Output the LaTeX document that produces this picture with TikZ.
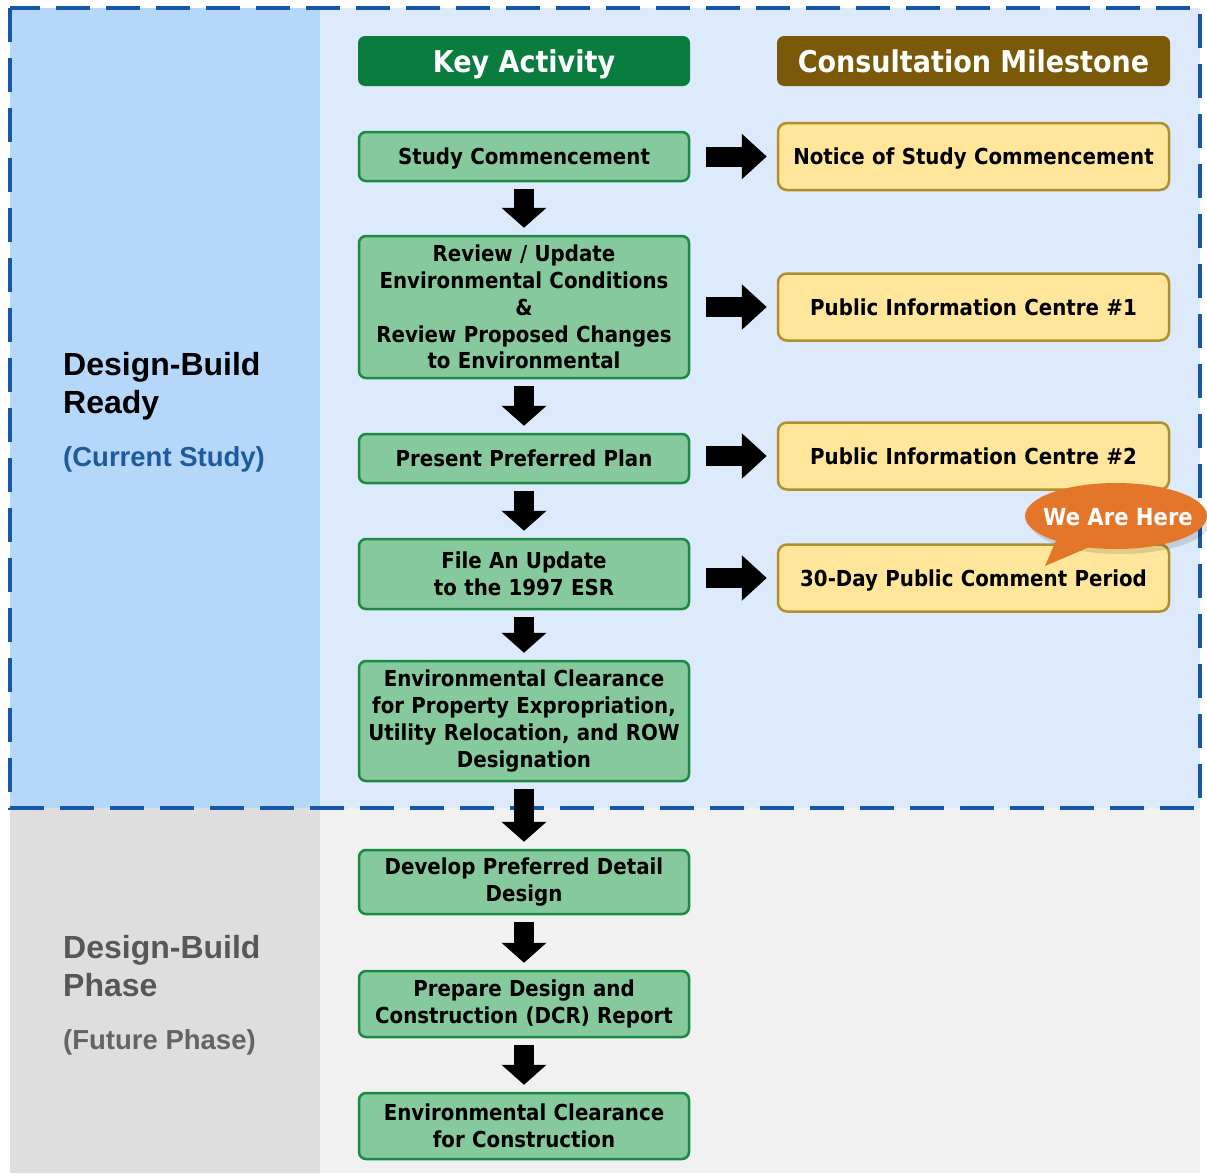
\documentclass[tikz,border=0pt]{standalone}
\usepackage{fontspec}
\setmainfont{DejaVu Sans}[FakeStretch=0.9]
\newfontfamily\sidefont{Liberation Sans}
\usepackage{xcolor}
\definecolor{bandblue}{HTML}{DCEAFB}
\definecolor{sideblue}{HTML}{B4D7FA}
\definecolor{bandgray}{HTML}{F1F1F1}
\definecolor{sidegray}{HTML}{DEDEDE}
\definecolor{dashblue}{HTML}{1658A8}
\definecolor{actfill}{HTML}{85C99D}
\definecolor{actline}{HTML}{1A8A45}
\definecolor{actdark}{HTML}{0A7D3E}
\definecolor{milefill}{HTML}{FFE69A}
\definecolor{mileline}{HTML}{B08F2E}
\definecolor{miledark}{HTML}{7A5A08}
\definecolor{herefill}{HTML}{E4762A}
\definecolor{studyblue}{HTML}{1F5A9E}
\definecolor{futuregray}{HTML}{575757}
\usepackage{tikz}
\usetikzlibrary{arrows.meta,positioning}

\begin{document}
\begin{tikzpicture}[x=1pt,y=-1pt,
  actbox/.style={draw=actline, line width=2.5pt, fill=actfill, rounded corners=7pt,
    text width=322pt, minimum width=330pt, inner sep=0pt, align=center, text=black,
    font=\bfseries\fontsize{22}{26.8}\selectfont},
  oneline/.style={text depth=0pt},
  milebox/.style={draw=mileline, line width=2.5pt, fill=milefill, rounded corners=9pt,
    text width=385pt, minimum width=391pt, minimum height=67pt, inner sep=0pt, align=center,
    text=black, text depth=0pt, font=\bfseries\fontsize{22}{26.8}\selectfont},
  headbox/.style={rounded corners=7pt, minimum height=50pt, inner sep=0pt, text=white,
    text height=22pt, text depth=0pt, font=\bfseries\fontsize{30}{34}\selectfont},
  downarrow/.style={line width=20pt, -{Triangle[width=44pt,length=20pt]}},
  rightarrow/.style={line width=20pt, -{Triangle[width=44pt,length=25pt]}},
  sidetext/.style={anchor=base west, inner sep=0pt, font=\sidefont\bfseries\fontsize{32}{38}\selectfont},
  subtext/.style={anchor=base west, inner sep=0pt, font=\sidefont\bfseries\fontsize{27.5}{33}\selectfont}]
  \useasboundingbox (0,0) rectangle (1207,1173);

  % bands
  \fill[bandblue] (10,8) rectangle (1200,808);
  \fill[sideblue] (10,8) rectangle (320,808);
  \fill[bandgray] (10,808) rectangle (1200,1173);
  \fill[sidegray] (10,808) rectangle (320,1173);
  \draw[dashblue, line width=3.5pt, dash pattern=on 34pt off 16pt] (10,8) rectangle (1200,808);

  % phase labels
  \node[sidetext] (dbr1) at (63,375) {Design-Build};
  \node[sidetext] (dbr2) at (63,413) {Ready};
  \node[subtext, text=studyblue] (cur) at (63,466) {(Current Study)};
  \node[sidetext, text=futuregray] (dbp1) at (63,958) {Design-Build};
  \node[sidetext, text=futuregray] (dbp2) at (63,996) {Phase};
  \node[subtext, text=futuregray!92] (fut) at (63,1049) {(Future Phase)};

  % column heads
  \node[headbox, fill=actdark, minimum width=332pt] (key) at (524,61) {Key Activity};
  \node[headbox, fill=miledark, minimum width=393pt] (cons) at (973.5,61) {Consultation Milestone};

  % key activities
  \node[actbox, oneline, minimum height=49pt] (sc) at (524,156.5) {Study Commencement};
  \node[actbox, minimum height=142pt] (rv) at (524,307) {Review / Update\\Environmental Conditions\\\&\\Review Proposed Changes\\to Environmental};
  \node[actbox, oneline, minimum height=49pt] (pp) at (524,458.5) {Present Preferred Plan};
  \node[actbox, minimum height=70pt] (fu) at (524,574) {File An Update\\to the 1997 ESR};
  \node[actbox, minimum height=120pt] (ec) at (524,721) {Environmental Clearance\\for Property Expropriation,\\Utility Relocation, and ROW\\Designation};
  \node[actbox, minimum height=64pt] (dd) at (524,882) {Develop Preferred Detail\\Design};
  \node[actbox, minimum height=66pt] (dcr) at (524,1004) {Prepare Design and\\Construction (DCR) Report};
  \node[actbox, minimum height=66pt] (ecc) at (524,1126) {Environmental Clearance\\for Construction};

  % consultation milestones
  \node[milebox] (nsc) at (973.5,156.5) {Notice of Study Commencement};
  \node[milebox] (pic1) at (973.5,307) {Public Information Centre \#1};
  \node[milebox] (pic2) at (973.5,456) {Public Information Centre \#2};
  \node[milebox] (pcp) at (973.5,578) {30-Day Public Comment Period};

  % flow
  \foreach \a/\b in {sc/rv, rv/pp, pp/fu, fu/ec, ec/dd, dd/dcr, dcr/ecc}
    \draw[downarrow] ([yshift=-7pt]\a.south) -- ([yshift=7pt]\b.north);
  \foreach \a/\b in {sc/nsc, rv/pic1, pp/pic2, fu/pcp}
    \draw[rightarrow] ([xshift=16pt]\b.west -| \a.east) -- ([xshift=-10pt]\b.west);

  % we are here
  \fill[black, opacity=0.12] (1120,521) ellipse [x radius=91, y radius=33];
  \fill[herefill] (1058,536) -- (1045,566) -- (1094,545) -- cycle;
  \fill[herefill] (1116,516) ellipse [x radius=91, y radius=33];
  \node[text=white, text height=16pt, text depth=0pt, font=\bfseries\fontsize{23.5}{28}\selectfont] (here) at (1118,517) {We Are Here};
\end{tikzpicture}
\end{document}
